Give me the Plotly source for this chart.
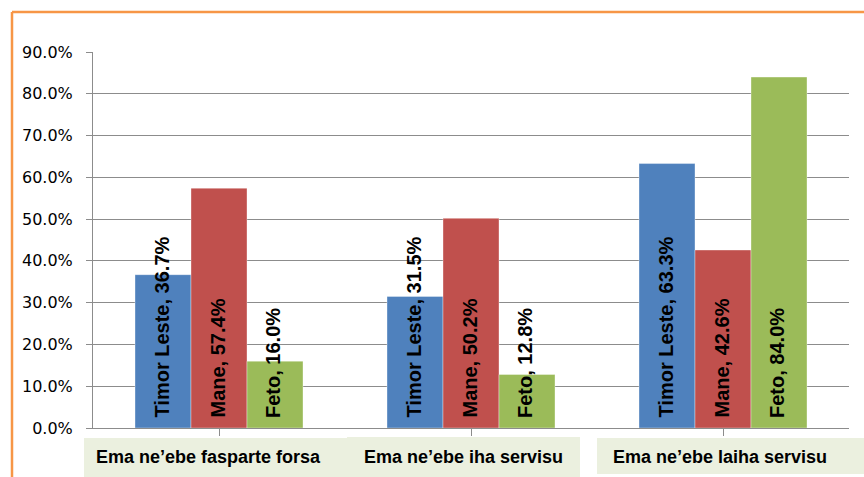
import plotly.graph_objects as go

# Survey groups and the share of each population group
categories = ["Ema ne\u2019ebe fasparte forsa", "Ema ne\u2019ebe iha servisu", "Ema ne\u2019ebe laiha servisu"]
series_names = ["Timor Leste", "Mane", "Feto"]
timor_leste = [36.7, 31.5, 63.3]
mane = [57.4, 50.2, 42.6]
feto = [16.0, 12.8, 84.0]
series_values = [timor_leste, mane, feto]
series_colors = ["#4F81BD", "#C0504D", "#9BBB59"]
y_ticks = [0, 10, 20, 30, 40, 50, 60, 70, 80, 90]

W, H = 864, 477
L, R, T, B = 93, 15, 52, 49
PW, PH = W - L - R, H - T - B


def px(x):
    return (x - L) / PW


def py(y):
    return (H - B - y) / PH


BARGAP = 1 / 3
n_series = len(series_names)
bar_w = (1 - BARGAP) / n_series

fig = go.Figure()
for name, vals, col in zip(series_names, series_values, series_colors):
    fig.add_trace(go.Bar(
        name=name,
        x=list(range(len(categories))),
        y=[v / 100 for v in vals],
        marker=dict(color=col, line=dict(color="rgba(255,255,255,0.6)", width=0.6)),
        hoverinfo="skip",
    ))

annotations = []
# value labels written upward from the base of each bar
for s, (name, vals) in enumerate(zip(series_names, series_values)):
    offset = (s - (n_series - 1) / 2) * bar_w
    for i, v in enumerate(vals):
        annotations.append(dict(
            x=i + offset, y=0, xref="x", yref="y",
            text=f"<b>{name}, {v:.1f}%</b>",
            textangle=-90, showarrow=False,
            xanchor="center", yanchor="bottom", yshift=8, xshift=-2,
            font=dict(family="Liberation Sans, Arial", size=20, color="#000000"),
        ))

# category label boxes below the axis
boxes = [(84, 347, 438, 477), (347, 580, 437, 477), (597, 866, 438, 474)]
label_centers = [208, 463, 720]
shapes = []
for (x0, x1, y0, y1) in boxes:
    shapes.append(dict(type="rect", xref="paper", yref="paper",
                       x0=px(x0), x1=px(x1), y0=py(y1), y1=py(y0),
                       fillcolor="#EBF0DF", line=dict(width=0), layer="below"))
for cat, cx in zip(categories, label_centers):
    annotations.append(dict(
        x=px(cx), y=py(457), xref="paper", yref="paper",
        text=f"<b>{cat}</b>", showarrow=False,
        xanchor="center", yanchor="middle",
        font=dict(family="Liberation Sans, Arial", size=18, color="#000000"),
    ))

# orange frame along the top and left edges
shapes.append(dict(type="line", xref="paper", yref="paper",
                   x0=px(12), x1=px(870), y0=py(12), y1=py(12),
                   line=dict(color="#F79646", width=2.5)))
shapes.append(dict(type="line", xref="paper", yref="paper",
                   x0=px(12), x1=px(12), y0=py(12), y1=py(480),
                   line=dict(color="#F79646", width=2.5)))

fig.update_layout(
    width=W, height=H,
    margin=dict(l=L, r=R, t=T, b=B, pad=0),
    paper_bgcolor="white", plot_bgcolor="white",
    barmode="group", bargap=BARGAP, bargroupgap=0,
    showlegend=False,
    annotations=annotations, shapes=shapes,
    xaxis=dict(
        range=[-0.5, len(categories) - 0.5],
        tickmode="array", tickvals=list(range(len(categories))),
        ticktext=[""] * len(categories),
        tickson="boundaries", ticks="outside", ticklen=7, tickcolor="#8C8C8C",
        showgrid=False, showline=True, linecolor="#8C8C8C", linewidth=1,
        zeroline=False,
    ),
    yaxis=dict(
        range=[0, 0.9],
        tickmode="array", tickvals=[t / 100 for t in y_ticks],
        ticktext=[f"{t:.1f}%" for t in y_ticks],
        ticks="outside", ticklen=6, tickcolor="#8C8C8C",
        showgrid=True, gridcolor="#8C8C8C", gridwidth=1,
        showline=True, linecolor="#8C8C8C", linewidth=1,
        zeroline=False, ticklabelstandoff=10,
        tickfont=dict(family="DejaVu Sans", size=16, color="#000000"),
    ),
)

fig.write_html("out.html")
